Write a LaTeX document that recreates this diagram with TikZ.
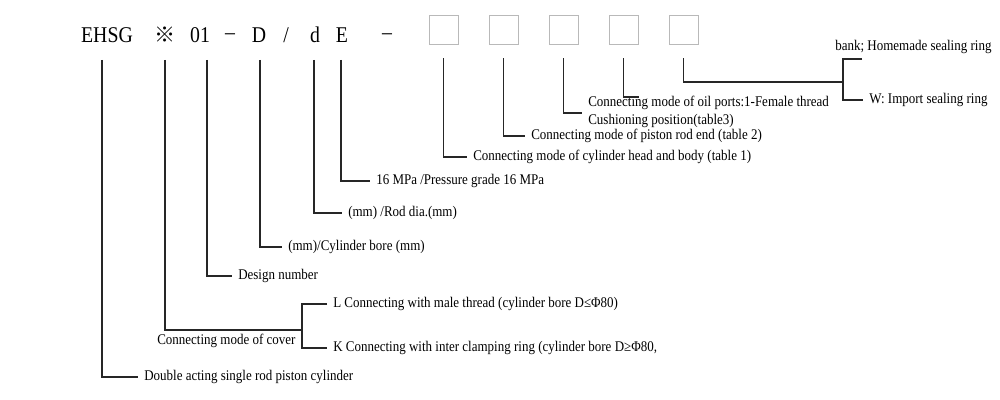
\documentclass[tikz,border=0pt]{standalone}
\usepackage{fontspec}
\setmainfont{Liberation Serif}[FakeStretch=0.88]
\newfontfamily\cjkfont{Noto Sans CJK SC}

\begin{document}
\begin{tikzpicture}[
    x=0.025cm, y=-0.025cm, % one unit = one pixel of the sheet
    % --- STYLES ---
    lead/.style={draw=black!85, line width=1.1pt},
    slot/.style={rectangle, draw=gray!55, line width=0.5pt, minimum size=0.725cm, inner sep=0},
    code/.style={anchor=base, inner sep=0, font=\fontsize{16}{18}\selectfont},
    note/.style={anchor=west, inner sep=0, inner xsep=0.15cm, font=\fontsize{10.5}{12}\selectfont}
]
\useasboundingbox (0,0) rectangle (1000,400);

% --- 1. MODEL CODE ---
\node (ehsg) [code] at (107,43) {EHSG};
\node (mark) [code, font=\fontsize{15}{18}\cjkfont] at (165,43) {※};
\node (design) [code] at (200,43) {01};
\node (dash1) [code] at (230,40) {--};
\node (bore) [code] at (259,43) {D};
\node (slash) [code] at (286,43) {/};
\node (rod) [code] at (315,43) {d};
\node (press) [code] at (342,43) {E};
\node (dash2) [code] at (387,40) {--};
\foreach \i in {1,...,5}
    \node (box\i) [slot] at (443.5+60*\i-60,29.5) {};

% --- 2. LEAD STARTS ---
\coordinate (t-ehsg) at (102,60);
\coordinate (t-mark) at (165,60);
\coordinate (t-design) at (207,60);
\coordinate (t-bore) at (260,60);
\coordinate (t-rod) at (314,60);
\coordinate (t-press) at (341,60);
\foreach \i in {1,...,5}
    \coordinate (lead\i) at ([yshift=-0.35cm]box\i.south);

% --- 3. EXPLANATIONS ---
\node (double) [note] at (138,377) {Double acting single rod piston cylinder};
\node (cover) [note, inner xsep=0] at (157,341) {Connecting mode of cover};
\node (lthread) [note] at (327,304) {L Connecting with male thread (cylinder bore D≤Φ80)};
\node (kring) [note] at (327,348) {K Connecting with inter clamping ring (cylinder bore D≥Φ80,};
\node (number) [note] at (232,276) {Design number};
\node (cylbore) [note] at (282,247) {(mm)/Cylinder bore (mm)};
\node (roddia) [note] at (342,213) {(mm) /Rod dia.(mm)};
\node (grade) [note] at (370,181) {16 MPa /Pressure grade 16 MPa};
\node (head) [note] at (467,157) {Connecting mode of cylinder head and body (table 1)};
\node (rodend) [note] at (525,136) {Connecting mode of piston rod end (table 2)};
\node (cushion) [note] at (582,121) {Cushioning position(table3)};
\node (ports) [note] at (582,103) {Connecting mode of oil ports:1-Female thread};
\node (import) [note] at (863,100) {W: Import sealing ring};
\node (homemade) [note, inner xsep=0] at (835,47) {bank; Homemade sealing ring};

% --- 4. CORNERS ---
\coordinate (fork) at (302,330);
\coordinate (cushend) at (582,113);
\coordinate (portend) at (639,97);
\coordinate (seal) at (843,82);
\coordinate (homeend) at (862,59);

% --- LEADS ---
\draw [lead] (t-ehsg) |- (double.west);
\draw [lead] (t-mark) |- (fork);
\draw [lead] (lthread.west) -| (fork) |- (kring.west);
\draw [lead] (t-design) |- (number.west);
\draw [lead] (t-bore) |- (cylbore.west);
\draw [lead] (t-rod) |- (roddia.west);
\draw [lead] (t-press) |- (grade.west);
\draw [lead] (lead1) |- (head.west);
\draw [lead] (lead2) |- (rodend.west);
\draw [lead] (lead3) |- (cushend);
\draw [lead] (lead4) |- (portend);
\draw [lead] (lead5) |- (seal);
\draw [lead] (homeend) -| (seal) |- (import.west);

\end{tikzpicture}
\end{document}
